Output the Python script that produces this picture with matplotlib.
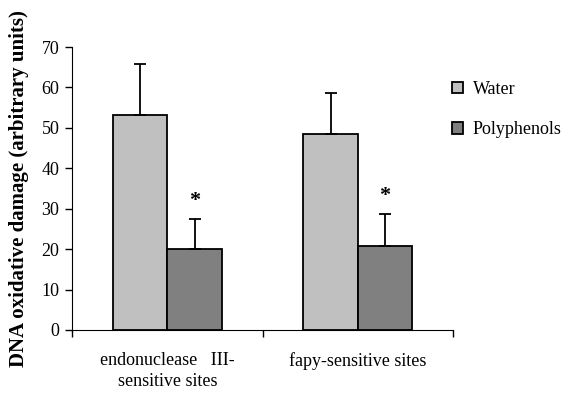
import matplotlib
matplotlib.use("Agg")
import matplotlib.pyplot as plt
import numpy as np

categories = ["endonuclease   III-\nsensitive sites", "fapy-sensitive sites"]
water = [53.3, 48.6]
water_err = [12.4, 10.0]
poly = [20.1, 20.8]
poly_err = [7.4, 7.9]
yticks = [0, 10, 20, 30, 40, 50, 60, 70]

plt.rcParams['font.family'] = ['Liberation Serif', 'DejaVu Serif']

fig = plt.figure(figsize=(5.64, 3.94), dpi=100)
ax = fig.add_axes([72/564, (394-330)/394, (453-72)/564, (330-47)/394])

x = np.arange(len(categories))
w = 54.5/190.5
ax.bar(x - w/2, water, w, color='#c0c0c0', edgecolor='black', linewidth=1.3, label='Water', zorder=2)
ax.bar(x + w/2, poly, w, color='#808080', edgecolor='black', linewidth=1.3, label='Polyphenols', zorder=2)
ax.errorbar(x - w/2, water, yerr=[[0]*len(water), water_err], fmt='none', ecolor='black', elinewidth=1.3, capsize=4.3, capthick=1.3, zorder=3)
ax.errorbar(x + w/2, poly, yerr=[[0]*len(poly), poly_err], fmt='none', ecolor='black', elinewidth=1.3, capsize=4.3, capthick=1.3, zorder=3)
for xi, v, e in zip(x, poly, poly_err):
    ax.text(xi + w/2, v + e + 2.0, '*', ha='center', va='bottom', fontsize=16, fontweight='bold')

ax.set_xlim(-0.5, 1.5)
ax.set_ylim(0, 70)
ax.set_yticks(yticks)
ax.set_yticklabels([str(t) for t in yticks], fontsize=13)
ax.set_xticks([-0.5, 0.5, 1.5])
ax.set_xticklabels([])
ax.tick_params(axis='x', direction='out', length=5, width=1)
ax.tick_params(axis='y', direction='out', length=5, width=1, pad=4)
for i, c in enumerate(categories):
    ax.text(i, -5.5, c, ha='center', va='top', fontsize=13, linespacing=1.3)
ax.spines['top'].set_visible(False)
ax.spines['right'].set_visible(False)
ax.set_ylabel('DNA oxidative damage (arbitrary units)', fontsize=15, fontweight='bold', labelpad=9)

leg = fig.legend(loc='upper left', bbox_to_anchor=(452/564, 1 - 81/394), frameon=False, fontsize=13,
                 handlelength=0.6, handleheight=0.6, handletextpad=0.55, labelspacing=1.3,
                 borderpad=0, borderaxespad=0)
for p in leg.get_patches():
    p.set_linewidth(1.3)

fig.savefig('out.png', dpi=100)
